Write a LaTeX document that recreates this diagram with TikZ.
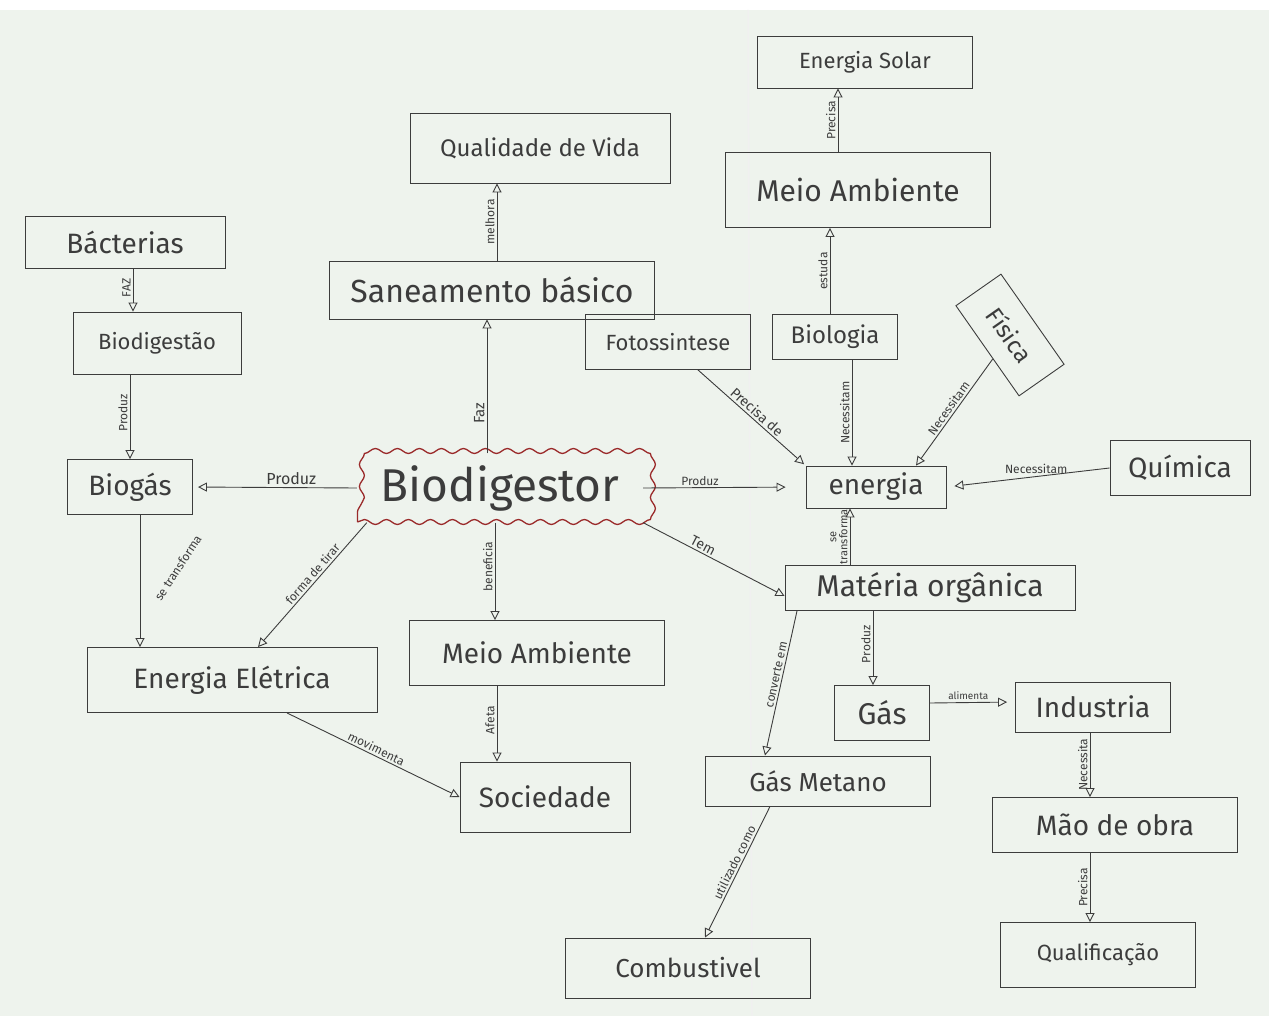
\documentclass[tikz,border=0pt]{standalone}
\usepackage{fontspec}
\setmainfont{Fira Sans}
\usetikzlibrary{arrows.meta,decorations.pathmorphing,shapes.geometric}
\definecolor{paper}{HTML}{EEF3ED}
\definecolor{ink}{HTML}{3C3C3C}
\definecolor{redink}{HTML}{9A2A2A}
\newcommand\myfs[1]{\fontsize{#1}{#1}\selectfont}
\begin{document}
\begin{tikzpicture}[x=1pt,y=-1pt,
  concept/.style={draw=ink, line width=0.9pt, text=ink, inner sep=2pt},
  link/.style={draw=ink, line width=0.9pt, -{Triangle[open,length=9pt,width=9pt]}},
  lab/.style={text=ink, font=\myfs{12}, inner sep=2pt},
  vlab/.style={lab, rotate=90, anchor=south}
]
\useasboundingbox (0,0) rectangle (1269,1016);
\fill[paper] (0,0) rectangle (1269,1016);
\fill[white] (0,0) rectangle (1269,10);
\draw[black!6, line width=1.5pt] (748,10) -- (752,1016);

% nodes
\node[concept, minimum width=200pt, minimum height=52pt, font=\myfs{28}] (bact) at (125,242) {Bácterias};
\node[concept, minimum width=168pt, minimum height=62pt, font=\myfs{22}] (bdgs) at (157,343) {Biodigestão};
\node[concept, minimum width=125pt, minimum height=55pt, font=\myfs{28}] (biogas) at (130,487) {Biogás};
\node[draw=redink, line width=1.3pt, text=ink, minimum width=285pt, minimum height=68pt, font=\myfs{46},
      decorate, decoration={snake, segment length=22pt, amplitude=2.5pt}] (bdgr) at (500,488) {Biodigestor};
\node[concept, minimum width=325pt, minimum height=58pt, font=\myfs{32}] (san) at (492,290) {Saneamento básico};
\node[concept, minimum width=260pt, minimum height=70pt, font=\myfs{24}] (qual) at (540,148) {Qualidade de Vida};
\node[concept, minimum width=215pt, minimum height=52pt, font=\myfs{22}] (solar) at (865,62) {Energia Solar};
\node[concept, minimum width=265pt, minimum height=75pt, font=\myfs{30}] (maTop) at (858,190) {Meio Ambiente};
\node[concept, minimum width=165pt, minimum height=55pt, font=\myfs{22}] (foto) at (668,342) {Fotossintese};
\node[concept, minimum width=125pt, minimum height=45pt, font=\myfs{24}] (bio) at (835,337) {Biologia};
\node[concept, minimum width=110pt, minimum height=55pt, font=\myfs{24}, rotate=-55] (fis) at (1010,335) {Física};
\node[concept, minimum width=140pt, minimum height=55pt, font=\myfs{28}] (quim) at (1180,468) {Química};
\node[concept, minimum width=140pt, minimum height=42pt, font=\myfs{28}] (energia) at (876,487) {energia};
\node[concept, minimum width=290pt, minimum height=45pt, font=\myfs{30}] (mat) at (930,588) {Matéria orgânica};
\node[concept, minimum width=95pt, minimum height=55pt, font=\myfs{30}] (gas) at (882,713) {Gás};
\node[concept, minimum width=155pt, minimum height=50pt, font=\myfs{28}] (ind) at (1093,707) {Industria};
\node[concept, minimum width=245pt, minimum height=55pt, font=\myfs{28}] (mao) at (1115,825) {Mão de obra};
\node[concept, minimum width=195pt, minimum height=65pt, font=\myfs{22}] (qualif) at (1098,955) {Qualificação};
\node[concept, minimum width=225pt, minimum height=50pt, font=\myfs{26}] (metano) at (818,781) {Gás Metano};
\node[concept, minimum width=245pt, minimum height=60pt, font=\myfs{26}] (comb) at (688,968) {Combustivel};
\node[concept, minimum width=170pt, minimum height=70pt, font=\myfs{28}] (soc) at (545,797) {Sociedade};
\node[concept, minimum width=255pt, minimum height=65pt, font=\myfs{28}] (maBot) at (537,653) {Meio Ambiente};
\node[concept, minimum width=290pt, minimum height=65pt, font=\myfs{28}] (ee) at (232,680) {Energia Elétrica};

% connectors
\draw[link] ([xshift=8pt]bact.south) -- node[vlab, pos=0.45] {FAZ} ([xshift=-24pt]bdgs.north);
\draw[link] ([xshift=-27pt]bdgs.south) -- node[vlab, pos=0.45] {Produz} (biogas.north);
\draw[link, shorten >=5pt] (bdgr.west) -- node[lab, above, pos=0.4] {\myfs{16}Produz} (biogas.east);
\draw[link] ([xshift=10pt]biogas.south) -- node[lab, pos=0.4, xshift=38pt, rotate=57] {se transforma} ([xshift=-92pt]ee.north);
\draw[link] ([xshift=10pt]bdgr.south west) -- node[lab, sloped, above, pos=0.45] {forma de tirar} ([xshift=26pt]ee.north);
\draw[link] ([xshift=-13pt]bdgr.north) -- node[vlab, pos=0.3] {\myfs{15}Faz} ([xshift=-5pt]san.south);
\draw[link] ([xshift=5pt]san.north) -- node[vlab, pos=0.5] {melhora} ([xshift=-43pt]qual.south);
\draw[link] ([xshift=-5pt]bdgr.south) -- node[vlab, pos=0.45] {beneficia} ([xshift=-42pt]maBot.north);
\draw[link] ([xshift=-40pt]maBot.south) -- node[vlab, pos=0.45] {Afeta} ([xshift=-48pt]soc.north);
\draw[link] ([xshift=55pt]ee.south) -- node[lab, sloped, above, pos=0.5] {movimenta} (soc.west);
\draw[link, shorten >=20pt] (bdgr.east) -- node[lab, above, pos=0.35] {Produz} (energia.west);
\draw[link] (bdgr.south east) -- node[lab, sloped, above, pos=0.4] {\myfs{14}Tem} ([yshift=-8pt]mat.west);
\draw[link, shorten >=2pt] ([xshift=30pt]foto.south) -- node[lab, sloped, above, pos=0.5] {\myfs{14}Precisa de} (energia.north west);
\draw[link] ([xshift=17pt]bio.south) -- node[vlab, pos=0.5] {Necessitam} ([xshift=-24pt]energia.north);
\draw[link] ([xshift=-5pt]bio.north) -- node[vlab, pos=0.5] {estuda} ([xshift=-28pt]maTop.south);
\draw[link] ([xshift=-20pt]maTop.north) -- node[vlab, pos=0.5] {Precisa} ([xshift=-27pt]solar.south);
\draw[link] (fis) -- node[lab, sloped, above, pos=0.5] {Necessitam} ([xshift=40pt]energia.north);
\draw[link, shorten >=8pt] (quim.west) -- node[lab, above, pos=0.45] {Necessitam} (energia.east);
\draw[link] ([xshift=-80pt]mat.north) -- node[vlab, pos=0.5, align=center, font=\myfs{11}] {se\\transforma} ([xshift=-26pt]energia.south);
\draw[link] ([xshift=-57pt]mat.south) -- node[vlab, pos=0.45] {Produz} ([xshift=-9pt]gas.north);
\draw[link] ([xshift=-133pt]mat.south) -- node[lab, sloped, above, pos=0.45] {converte em} ([xshift=-53pt]metano.north);
\draw[link, shorten >=8pt] ([yshift=10pt]gas.east) -- node[lab, above, pos=0.45, font=\myfs{10}] {alimenta} ([yshift=5pt]ind.west);
\draw[link] ([xshift=-3pt]ind.south) -- node[vlab, pos=0.5] {Necessita} ([xshift=-25pt]mao.north);
\draw[link] ([xshift=-25pt]mao.south) -- node[vlab, pos=0.5] {Precisa} ([xshift=-8pt]qualif.north);
\draw[link] ([xshift=-48pt]metano.south) -- node[lab, sloped, above, pos=0.45] {utilizado como} ([xshift=17pt]comb.north);
\end{tikzpicture}
\end{document}
